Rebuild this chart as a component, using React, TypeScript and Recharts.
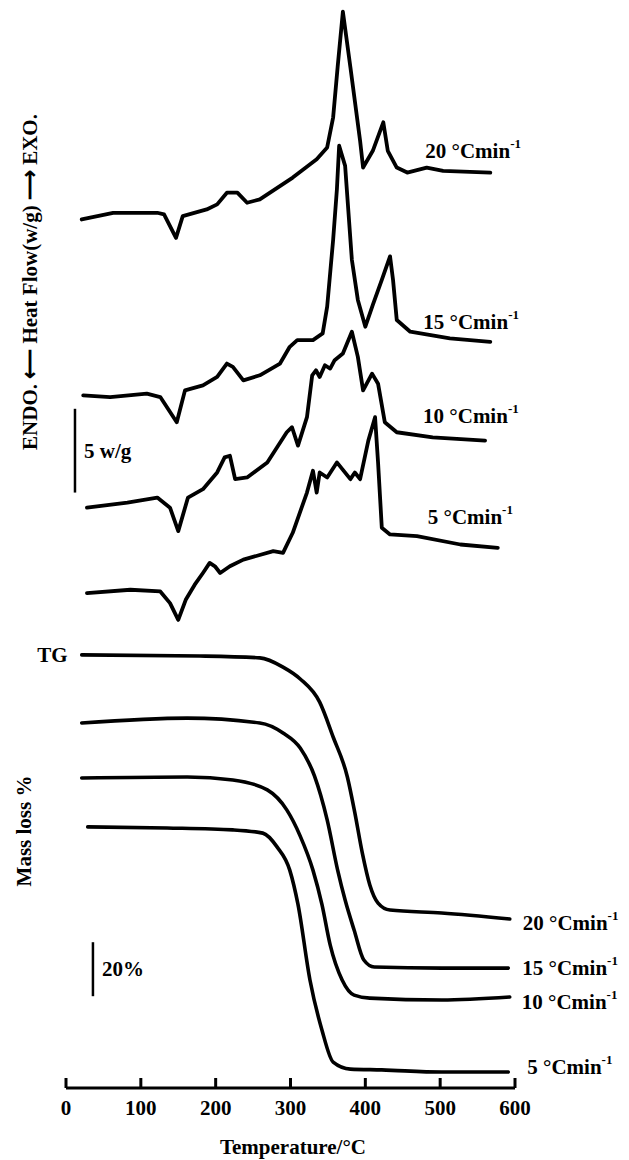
import React from "react";
import { LineChart, Line, XAxis, YAxis, ReferenceLine } from "recharts";

const FONT = '"Liberation Serif", "Times New Roman", serif';
const FS = 21;

// heating rates (°C/min), top to bottom
const RATES = ["20", "15", "10", "5"];
const TEMP_TICKS = [0, 100, 200, 300, 400, 500, 600];

// DSC traces: [temperature °C, heat flow w/g (curves shifted as in the figure)]
const DSC_20 = [
  [21, 23.9], [63, 24.3], [122, 24.3], [131, 24.2], [147, 22.8], [156, 24.1], [188, 24.5],
  [202, 24.8], [215, 25.5], [229, 25.5], [242, 24.9], [259, 25.1], [303, 26.4], [335, 27.5],
  [349, 28.2], [357, 30.0], [363, 33.0], [370, 36.3], [380, 33.0], [393, 28.6], [397, 27.0],
  [410, 28.0], [424, 29.7], [430, 28.0], [442, 27.0], [456, 26.7], [482, 27.0], [504, 26.8],
  [567, 26.7],
];
const DSC_15 = [
  [23, 13.4], [59, 13.3], [108, 13.5], [126, 13.3], [148, 11.8], [159, 13.7], [183, 14.0],
  [202, 14.5], [215, 15.3], [223, 15.1], [237, 14.3], [259, 14.6], [286, 15.3], [299, 16.3],
  [309, 16.7], [330, 16.7], [343, 17.1], [349, 18.7], [357, 22.7], [362, 25.7], [365, 28.3],
  [373, 27.1], [382, 21.5], [390, 19.1], [400, 17.5], [410, 18.8], [422, 20.3], [433, 21.7],
  [437, 20.3], [442, 17.9], [460, 17.2], [513, 16.8], [567, 16.6],
];
const DSC_10 = [
  [28, 6.7], [82, 7.0], [122, 7.3], [139, 6.7], [150, 5.3], [163, 7.3], [183, 7.8], [202, 8.8],
  [212, 9.7], [219, 9.8], [226, 8.4], [242, 8.5], [269, 9.4], [295, 11.2], [302, 11.5],
  [310, 10.4], [322, 12.1], [329, 14.6], [334, 14.9], [339, 14.5], [346, 15.2], [353, 15.0],
  [359, 15.5], [370, 15.9], [382, 17.2], [390, 15.7], [397, 13.7], [409, 14.7], [417, 14.1],
  [426, 11.8], [442, 11.2], [490, 10.9], [560, 10.7],
];
const DSC_5 = [
  [28, 1.6], [86, 1.8], [126, 1.7], [139, 1.0], [150, 0.0], [160, 1.2], [172, 2.1], [183, 2.8],
  [192, 3.4], [199, 3.2], [206, 2.8], [219, 3.2], [237, 3.6], [277, 4.1], [290, 4.0],
  [303, 5.2], [322, 7.6], [330, 8.9], [335, 7.6], [339, 8.8], [349, 8.5], [362, 9.4],
  [380, 8.4], [386, 8.8], [393, 8.4], [404, 10.7], [413, 12.1], [417, 9.4], [422, 5.5],
  [433, 5.1], [469, 5.0], [527, 4.5], [577, 4.3],
];

// TG traces: [temperature °C, mass % (curves shifted as in the figure)]
const TG_20 = [
  [21, 160.4], [179, 160.0], [259, 159.3], [290, 155.9], [313, 151.5], [339, 142.9],
  [357, 130.0], [376, 115.2], [386, 101.9], [396, 87.0], [406, 75.2], [417, 68.5],
  [433, 65.9], [502, 64.8], [593, 62.6],
];
const TG_15 = [
  [21, 135.2], [162, 137.0], [259, 135.2], [290, 131.5], [313, 125.9], [332, 115.6],
  [349, 99.3], [363, 80.7], [373, 69.6], [385, 58.5], [398, 47.4], [412, 44.8],
  [502, 44.4], [591, 44.4],
];
const TG_10 = [
  [21, 114.8], [162, 115.2], [223, 114.1], [269, 110.4], [295, 103.0], [313, 93.3],
  [330, 80.7], [342, 68.0], [353, 53.0], [369, 40.0], [385, 34.4], [406, 33.3],
  [502, 32.6], [593, 33.7],
];
const TG_5 = [
  [29, 96.7], [135, 96.3], [223, 95.6], [263, 94.4], [282, 89.3], [299, 80.7], [310, 68.0],
  [326, 40.0], [342, 21.5], [357, 9.6], [380, 7.0], [422, 6.7], [502, 5.9],
  [591, 5.9],
];

const toPts = (arr: number[][]) => arr.map(([t, v]) => ({ t, v }));
const DSC = [DSC_20, DSC_15, DSC_10, DSC_5].map(toPts);
const TG = [TG_20, TG_15, TG_10, TG_5].map(toPts);

// label offsets from the end of each trace (px)
const DSC_LABEL_OFFSET = [[-65, -22], [-67, -20], [-62, -25], [-70, -31]];
const TG_LABEL_OFFSET = [[13, 4], [14, 0], [12, 5], [19, -5]];

function RateText({ x, y, rate }: { x: number; y: number; rate: string }) {
  return (
    <text x={x} y={y} fontFamily={FONT} fontWeight="bold" fontSize={FS} fill="#000" dominantBaseline="central">
      {rate} °Cmin
      <tspan dy={-8} fontSize={13}>-1</tspan>
    </text>
  );
}

const endDot = (rate: string, last: number, off: number[], tgLabel = false) => (p: any) => {
  if (p.index === last) {
    return <RateText key={`lab-${rate}`} x={p.cx + off[0]} y={p.cy + off[1]} rate={rate} />;
  }
  if (tgLabel && p.index === 0) {
    return (
      <text key="tg" x={p.cx - 14} y={p.cy} textAnchor="end" dominantBaseline="central"
        fontFamily={FONT} fontWeight="bold" fontSize={FS}>
        TG
      </text>
    );
  }
  return <g key={`d-${rate}-${p.index}`} />;
};

function TempTick(props: any) {
  const { x, y, payload } = props;
  return (
    <g>
      <line x1={x} x2={x} y1={y} y2={y - 10} stroke="#000" strokeWidth={3} />
      <text x={x} y={y + 27} textAnchor="middle" fontFamily={FONT} fontWeight="bold" fontSize={FS} fill="#000">
        {payload.value}
      </text>
    </g>
  );
}

const scaleLabel = (text: string) => (p: any) => {
  const vb = p.viewBox || {};
  return (
    <text x={vb.x + 9} y={vb.y + vb.height / 2} dominantBaseline="central"
      fontFamily={FONT} fontWeight="bold" fontSize={FS} fill="#000">
      {text}
    </text>
  );
};

export default function App() {
  return (
    <div style={{ position: "absolute", left: 0, top: 0, width: 629, height: 1160, background: "#fff" }}>
      {/* DSC */}
      <div style={{ position: "absolute", left: 0, top: 0 }}>
        <LineChart width={629} height={640} margin={{ top: 0, right: 114, bottom: 0, left: 66 }}>
          <XAxis type="number" dataKey="t" domain={[0, 600]} hide />
          <YAxis type="number" domain={[-1.2, 37]} hide />
          <ReferenceLine
            segment={[{ x: 12, y: 7.6 }, { x: 12, y: 12.6 }]}
            stroke="#000"
            strokeWidth={2.5}
            label={scaleLabel("5 w/g")}
          />
          {DSC.map((d, i) => (
            <Line
              key={`dsc-${RATES[i]}`}
              data={d}
              dataKey="v"
              type="linear"
              stroke="#000"
              strokeWidth={3.8}
              strokeLinejoin="round"
              strokeLinecap="round"
              dot={endDot(RATES[i], d.length - 1, DSC_LABEL_OFFSET[i])}
              activeDot={false}
              isAnimationActive={false}
            />
          ))}
        </LineChart>
      </div>

      {/* TG */}
      <div style={{ position: "absolute", left: 0, top: 600 }}>
        <LineChart width={629} height={560} margin={{ top: 2, right: 114, bottom: 12, left: 66 }}>
          <XAxis
            type="number"
            dataKey="t"
            domain={[0, 600]}
            ticks={TEMP_TICKS}
            height={60}
            tickSize={0}
            tickMargin={0}
            tickLine={false}
            axisLine={{ stroke: "#000", strokeWidth: 3 }}
            tick={<TempTick />}
          />
          <YAxis type="number" domain={[0, 180]} hide />
          <ReferenceLine
            segment={[{ x: 36, y: 34 }, { x: 36, y: 54 }]}
            stroke="#000"
            strokeWidth={2.5}
            label={scaleLabel("20%")}
          />
          {TG.map((d, i) => (
            <Line
              key={`tg-${RATES[i]}`}
              data={d}
              dataKey="v"
              type="monotone"
              stroke="#000"
              strokeWidth={3.6}
              strokeLinecap="round"
              dot={endDot(RATES[i], d.length - 1, TG_LABEL_OFFSET[i], i === 0)}
              activeDot={false}
              isAnimationActive={false}
            />
          ))}
        </LineChart>
      </div>

      {/* axis titles */}
      <svg width={629} height={1160} style={{ position: "absolute", left: 0, top: 0, pointerEvents: "none" }}>
        <text x={30} y={282} transform="rotate(-90 30 282)" textAnchor="middle" dominantBaseline="central"
          fontFamily={FONT} fontWeight="bold" fontSize={FS} fill="#000">
          ENDO. ⟵ Heat Flow(w/g) ⟶ EXO.
        </text>
        <text x={24} y={831} transform="rotate(-90 24 831)" textAnchor="middle" dominantBaseline="central"
          fontFamily={FONT} fontWeight="bold" fontSize={FS} fill="#000">
          Mass loss %
        </text>
        <text x={293} y={1147} textAnchor="middle" dominantBaseline="central"
          fontFamily={FONT} fontWeight="bold" fontSize={FS} fill="#000">
          Temperature/°C
        </text>
      </svg>
    </div>
  );
}
